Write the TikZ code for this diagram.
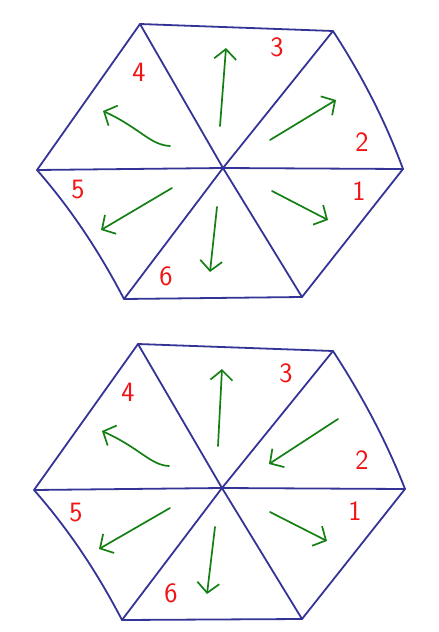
\documentclass[tikz,border=0pt]{standalone}
\usetikzlibrary{arrows.meta}
\definecolor{penblue}{RGB}{52,52,150}
\definecolor{pengreen}{RGB}{20,128,20}
\definecolor{penred}{RGB}{240,20,20}
\tikzset{
  edge/.style={penblue,line width=1.8pt,line join=round,line cap=round},
  flow/.style={pengreen,line width=1.7pt,line cap=round,-{Straight Barb[length=10pt,width=22pt,line width=1.7pt]}},
  num/.style={penred,font=\sffamily\fontsize{28}{28}\selectfont,inner sep=0pt}
}
\begin{document}
\begin{tikzpicture}[x=1pt,y=-1pt]
        \useasboundingbox (0,0) rectangle (439,632);

        % upper hexagon
        \coordinate (tl) at (140,24);
        \coordinate (tr) at (333,31);
        \coordinate (r) at (403,169);
        \coordinate (br) at (302,297);
        \coordinate (bl) at (124,299);
        \coordinate (l) at (37,170);
        \coordinate (c) at (223,168);

        \draw [edge] (tl) -- (tr) .. controls (361,74) and (385,120) .. (r) -- (br) -- (bl)
          .. controls (100,253) and (72,210) .. (l) -- cycle;
        \draw [edge] (l) -- (c) -- (r);
        \draw [edge] (tl) -- (c) -- (br);
        \draw [edge] (tr) -- (c) -- (bl);

        \draw [flow] (220,126) -- (226,48);
        \draw [flow] (270,140) -- (336,100);
        \draw [flow] (170,146) .. controls (150,145) and (140,128) .. (103,111);
        \draw [flow] (172,188) -- (101,230);
        \draw [flow] (217,207) -- (210,272);
        \draw [flow] (272,191) -- (328,220);

        \node [num] at (359,191) (one){1};
        \node [num] at (362,142) (two){2};
        \node [num] at (277,47) (three){3};
        \node [num] at (139,72) (four){4};
        \node [num] at (78,190) (five){5};
        \node [num] at (166,276) (six){6};

        % lower hexagon
        \coordinate (tl2) at (138,344);
        \coordinate (tr2) at (333,351);
        \coordinate (r2) at (405,489);
        \coordinate (br2) at (302,619);
        \coordinate (bl2) at (122,620);
        \coordinate (l2) at (34,490);
        \coordinate (c2) at (222,488);

        \draw [edge] (tl2) -- (tr2) .. controls (361,394) and (386,440) .. (r2) -- (br2) -- (bl2)
          .. controls (98,574) and (70,531) .. (l2) -- cycle;
        \draw [edge] (l2) -- (c2) -- (r2);
        \draw [edge] (tl2) -- (c2) -- (br2);
        \draw [edge] (tr2) -- (c2) -- (bl2);

        \draw [flow] (218,446) -- (222,369);
        \draw [flow] (338,419) -- (269,464);
        \draw [flow] (169,466) .. controls (150,465) and (140,448) .. (102,431);
        \draw [flow] (170,508) -- (99,549);
        \draw [flow] (215,527) -- (207,594);
        \draw [flow] (270,512) -- (327,541);

        \node [num] at (355,511) (one2){1};
        \node [num] at (362,460) (two2){2};
        \node [num] at (286,373) (three2){3};
        \node [num] at (128,392) (four2){4};
        \node [num] at (76,513) (five2){5};
        \node [num] at (171,593) (six2){6};
      \end{tikzpicture}
\end{document}
